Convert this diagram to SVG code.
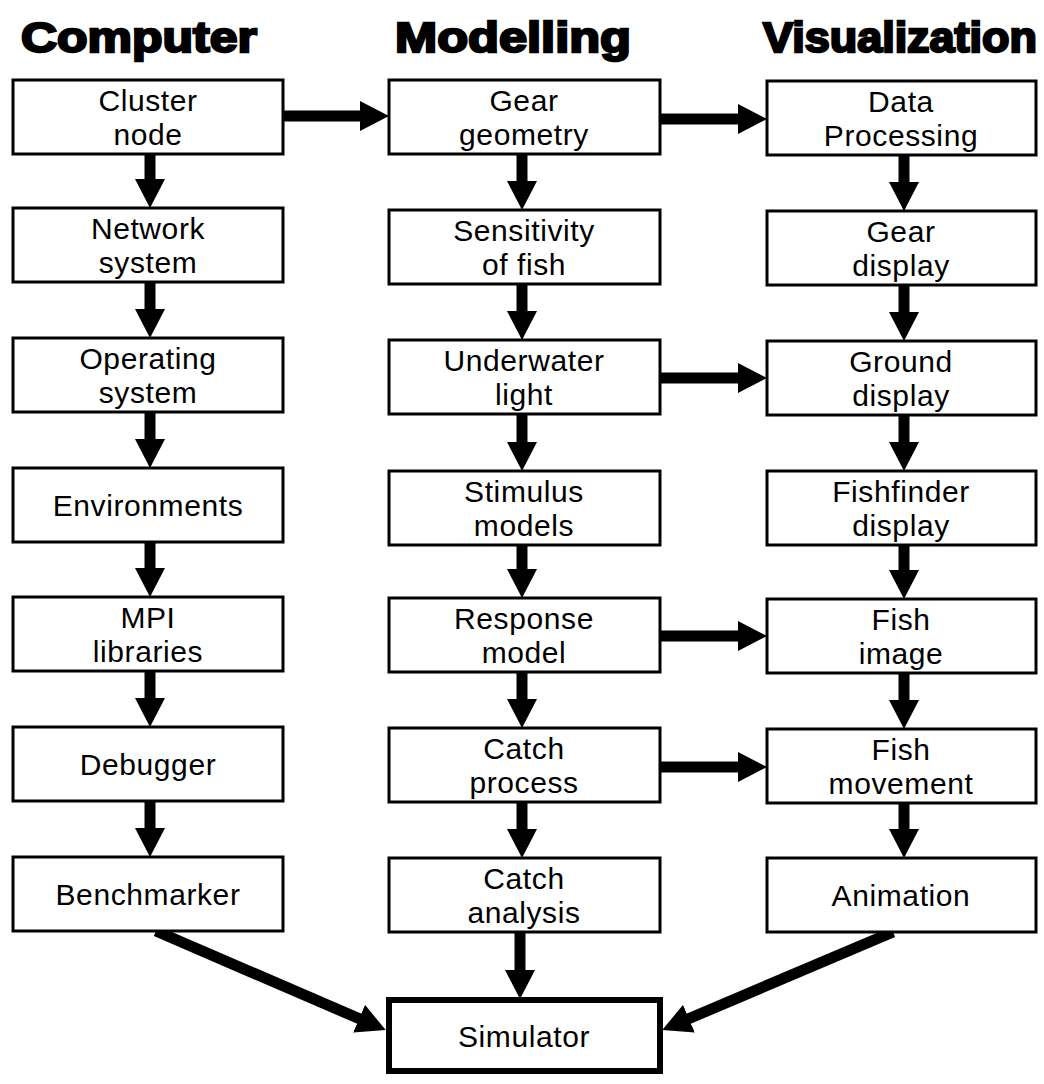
<svg xmlns="http://www.w3.org/2000/svg" width="1044" height="1084" viewBox="0 0 1044 1084">
<style>
.box{fill:#fff;stroke:#000;stroke-width:3}
.sim{fill:#fff;stroke:#000;stroke-width:6}
.t{font-family:"Liberation Sans",Arial,sans-serif;font-size:30px;letter-spacing:0.6px;fill:#000;text-anchor:middle}
.h{font-family:"Liberation Sans",Arial,sans-serif;font-size:43px;font-weight:bold;fill:#000;stroke:#000;stroke-width:2.4;text-anchor:middle}
.c{stroke:#000;stroke-width:11;fill:none;marker-end:url(#ah)}
</style>
<defs>
<marker id="ah" markerUnits="userSpaceOnUse" markerWidth="29" markerHeight="30" viewBox="0 0 29 30" refX="1" refY="15" orient="auto">
<path d="M0,0 L29,15 L0,30 z" fill="#000"/>
</marker>
</defs>
<rect width="1044" height="1084" fill="#fff"/>
<g id="titles">
<text class="h" x="139" y="52" textLength="236" lengthAdjust="spacingAndGlyphs">Computer</text>
<text class="h" x="513" y="52" textLength="236" lengthAdjust="spacingAndGlyphs">Modelling</text>
<text class="h" x="900" y="52" textLength="274" lengthAdjust="spacingAndGlyphs">Visualization</text>
</g>
<g id="connectors">
<line class="c" x1="150" y1="154" x2="150" y2="180"/>
<line class="c" x1="150" y1="282" x2="150" y2="310"/>
<line class="c" x1="150" y1="412" x2="150" y2="440"/>
<line class="c" x1="150" y1="542" x2="150" y2="569"/>
<line class="c" x1="150" y1="671" x2="150" y2="699"/>
<line class="c" x1="150" y1="801" x2="150" y2="829"/>
<line class="c" x1="522" y1="154" x2="522" y2="182"/>
<line class="c" x1="522" y1="284" x2="522" y2="312"/>
<line class="c" x1="522" y1="414" x2="522" y2="443"/>
<line class="c" x1="522" y1="545" x2="522" y2="570"/>
<line class="c" x1="522" y1="672" x2="522" y2="700"/>
<line class="c" x1="522" y1="802" x2="522" y2="830"/>
<line class="c" x1="904" y1="155" x2="904" y2="183"/>
<line class="c" x1="904" y1="285" x2="904" y2="313"/>
<line class="c" x1="904" y1="415" x2="904" y2="443"/>
<line class="c" x1="904" y1="545" x2="904" y2="571"/>
<line class="c" x1="904" y1="673" x2="904" y2="701"/>
<line class="c" x1="904" y1="803" x2="904" y2="830"/>
<line class="c" x1="283" y1="116" x2="361" y2="116"/>
<line class="c" x1="660" y1="119" x2="739" y2="119"/>
<line class="c" x1="660" y1="378" x2="739" y2="378"/>
<line class="c" x1="660" y1="636" x2="739" y2="636"/>
<line class="c" x1="660" y1="767" x2="739" y2="767"/>
<line class="c" x1="520" y1="932" x2="520" y2="971"/>
<line class="c" x1="156" y1="931" x2="360" y2="1019"/>
<line class="c" x1="893" y1="932" x2="688" y2="1019"/>
</g>
<g id="n-cluster"><rect class="box" x="13" y="80" width="270" height="74"/><text class="t" x="148" y="111">Cluster</text><text class="t" x="148" y="145">node</text></g>
<g id="n-network"><rect class="box" x="13" y="208" width="270" height="74"/><text class="t" x="148" y="239">Network</text><text class="t" x="148" y="273">system</text></g>
<g id="n-operating"><rect class="box" x="13" y="338" width="270" height="74"/><text class="t" x="148" y="369">Operating</text><text class="t" x="148" y="403">system</text></g>
<g id="n-env"><rect class="box" x="13" y="468" width="270" height="74"/><text class="t" x="148" y="516">Environments</text></g>
<g id="n-mpi"><rect class="box" x="13" y="597" width="270" height="74"/><text class="t" x="148" y="628">MPI</text><text class="t" x="148" y="662">libraries</text></g>
<g id="n-debugger"><rect class="box" x="13" y="727" width="270" height="74"/><text class="t" x="148" y="775">Debugger</text></g>
<g id="n-bench"><rect class="box" x="13" y="857" width="270" height="74"/><text class="t" x="148" y="905">Benchmarker</text></g>
<g id="n-gear"><rect class="box" x="389" y="80" width="271" height="74"/><text class="t" x="524" y="111">Gear</text><text class="t" x="524" y="145">geometry</text></g>
<g id="n-sens"><rect class="box" x="389" y="210" width="271" height="74"/><text class="t" x="524" y="241">Sensitivity</text><text class="t" x="524" y="275">of fish</text></g>
<g id="n-light"><rect class="box" x="389" y="340" width="271" height="74"/><text class="t" x="524" y="371">Underwater</text><text class="t" x="524" y="405">light</text></g>
<g id="n-stim"><rect class="box" x="389" y="471" width="271" height="74"/><text class="t" x="524" y="502">Stimulus</text><text class="t" x="524" y="536">models</text></g>
<g id="n-resp"><rect class="box" x="389" y="598" width="271" height="74"/><text class="t" x="524" y="629">Response</text><text class="t" x="524" y="663">model</text></g>
<g id="n-catchp"><rect class="box" x="389" y="728" width="271" height="74"/><text class="t" x="524" y="759">Catch</text><text class="t" x="524" y="793">process</text></g>
<g id="n-catcha"><rect class="box" x="389" y="858" width="271" height="74"/><text class="t" x="524" y="889">Catch</text><text class="t" x="524" y="923">analysis</text></g>
<g id="n-data"><rect class="box" x="767" y="81" width="269" height="74"/><text class="t" x="901" y="112">Data</text><text class="t" x="901" y="146">Processing</text></g>
<g id="n-geard"><rect class="box" x="767" y="211" width="269" height="74"/><text class="t" x="901" y="242">Gear</text><text class="t" x="901" y="276">display</text></g>
<g id="n-ground"><rect class="box" x="767" y="341" width="269" height="74"/><text class="t" x="901" y="372">Ground</text><text class="t" x="901" y="406">display</text></g>
<g id="n-ff"><rect class="box" x="767" y="471" width="269" height="74"/><text class="t" x="901" y="502">Fishfinder</text><text class="t" x="901" y="536">display</text></g>
<g id="n-fimg"><rect class="box" x="767" y="599" width="269" height="74"/><text class="t" x="901" y="630">Fish</text><text class="t" x="901" y="664">image</text></g>
<g id="n-fmov"><rect class="box" x="767" y="729" width="269" height="74"/><text class="t" x="901" y="760">Fish</text><text class="t" x="901" y="794">movement</text></g>
<g id="n-anim"><rect class="box" x="767" y="858" width="269" height="74"/><text class="t" x="901" y="906">Animation</text></g>
<g id="n-sim"><rect class="sim" x="389" y="1000" width="271" height="71"/><text class="t" x="524" y="1047">Simulator</text></g>
</svg>
